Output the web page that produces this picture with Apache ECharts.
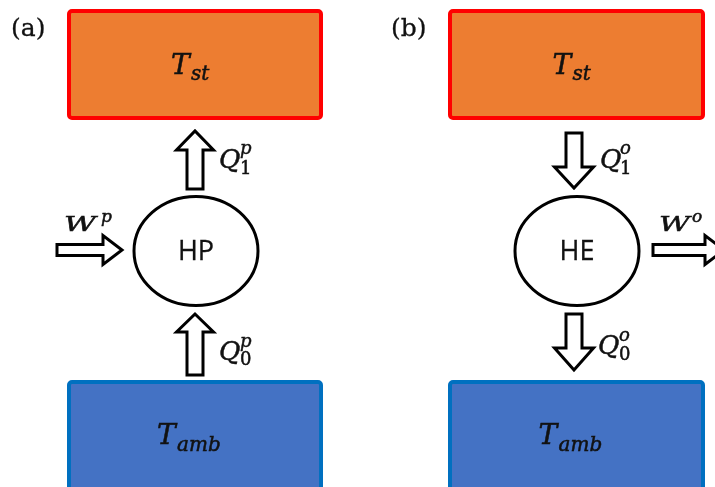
<!DOCTYPE html>
<html><head><meta charset="utf-8">
<script src="https://cdn.jsdelivr.net/npm/echarts@6/dist/echarts.min.js"></script>
<style>html,body{margin:0;padding:0;background:#fff}#c{width:715px;height:487px}</style>
</head><body><div id="c"></div>
<script>
// ---- content ----
const panelTags = ['(a)', '(b)'];
const engineNames = ['HP', 'HE'];
const hotLabel = {base: 'T', sub: 'st'};
const coldLabel = {base: 'T', sub: 'amb'};
const flowLabels = [
  {base: 'Q', sup: 'p', sub: '1'},
  {base: 'Q', sup: 'p', sub: '0'},
  {base: 'W', sup: 'p', sub: ''},
  {base: 'Q', sup: 'o', sub: '1'},
  {base: 'Q', sup: 'o', sub: '0'},
  {base: 'W', sup: 'o', sub: ''}
];
// ---- styles ----
const HOT_FILL = '#ED7D31', HOT_EDGE = '#FF0000';
const COLD_FILL = '#4472C4', COLD_EDGE = '#0070C0';
const MATH = '"DejaVu Serif", serif';

const els = [];
function txt(s, x, y, size, opts) {
  opts = opts || {};
  const bw = opts.bw === undefined ? 0.5 : opts.bw;
  els.push({type: 'text', x: x, y: y, scaleX: opts.sx || 1, z: 10,
    style: {text: s, fontSize: size, fontFamily: opts.family || MATH,
      fontStyle: opts.italic === false ? 'normal' : 'italic', fill: '#111',
      stroke: bw > 0 ? '#111' : null, lineWidth: bw,
      align: opts.align || 'left', verticalAlign: 'middle'}});
}
function vArrow(cx, yTail, yHB, yTip, sh, hh) {
  els.push({type: 'polygon', z: 5, shape: {points: [
    [cx - sh, yTail], [cx - sh, yHB], [cx - hh, yHB], [cx, yTip],
    [cx + hh, yHB], [cx + sh, yHB], [cx + sh, yTail]]},
    style: {fill: '#fff', stroke: '#000', lineWidth: 3, lineJoin: 'miter'}});
}
function hArrow(cy, xTail, xHB, xTip, sh, hh) {
  els.push({type: 'polygon', z: 5, shape: {points: [
    [xTail, cy - sh], [xHB, cy - sh], [xHB, cy - hh], [xTip, cy],
    [xHB, cy + hh], [xHB, cy + sh], [xTail, cy + sh]]},
    style: {fill: '#fff', stroke: '#000', lineWidth: 3, lineJoin: 'miter'}});
}
function box(x, y, w, h, fill, edge) {
  els.push({type: 'rect', z: 1, shape: {x: x, y: y, width: w, height: h, r: 3},
    style: {fill: fill, stroke: edge, lineWidth: 4}});
}
function ellipse(cx, cy, rx, ry) {
  els.push({type: 'ellipse', z: 5, shape: {cx: cx, cy: cy, rx: rx, ry: ry},
    style: {fill: '#fff', stroke: '#000', lineWidth: 3}});
}
function mathLabel(lab, x, y, supY, subY, subX, size, supSize) {
  txt(lab.base, x, y, size);
  if (lab.sup) txt(lab.sup, subX, supY, supSize);
  if (lab.sub) txt(lab.sub, subX, subY, supSize, {italic: false});
}

const panels = [
  {tag: panelTags[0], tagX: 11, boxX: 69, boxW: 252, cx: 196, arrowX: 195, name: engineNames[0], dir: 'up'},
  {tag: panelTags[1], tagX: 391, boxX: 450, boxW: 253, cx: 577, arrowX: 574, name: engineNames[1], dir: 'down'}
];

panels.forEach(function (p) {
  txt(p.tag, p.tagX, 29, 25, {italic: false, bw: 0.3});
  box(p.boxX, 11, p.boxW, 107, HOT_FILL, HOT_EDGE);
  box(p.boxX, 382, p.boxW, 130, COLD_FILL, COLD_EDGE);
  const bc = p.boxX + p.boxW / 2;
  txt(hotLabel.base, bc - 24, 67, 28);
  txt(hotLabel.sub, bc - 4, 75, 20);
  txt(coldLabel.base, bc - 38, 437, 28);
  txt(coldLabel.sub, bc - 18, 446, 20);
  ellipse(p.cx, 251, 62, 54.5);
  txt(p.name, p.cx, 252, 27, {italic: false, family: '"Open Sans", sans-serif', align: 'center', bw: 0.3});
  const ax = p.arrowX;
  if (p.dir === 'up') {
    vArrow(ax, 189, 150, 131, 8, 18.5);
    vArrow(ax, 375, 332, 314, 8, 18.5);
    hArrow(250, 57, 103, 122, 5.5, 14.5);
    mathLabel(flowLabels[0], 219, 161, 149, 169, 240, 26, 18);
    mathLabel(flowLabels[1], 219, 353, 342, 360, 240, 26, 18);
    txt(flowLabels[2].base, 64, 226, 20, {sx: 1.55});
    txt(flowLabels[2].sup, 101, 218, 17);
  } else {
    vArrow(ax, 133, 167, 188, 8, 19.5);
    vArrow(ax, 314, 348, 370, 8, 19.5);
    hArrow(250, 653, 705, 724, 5.5, 14.5);
    mathLabel(flowLabels[3], 600, 161, 149, 169, 620, 26, 18);
    mathLabel(flowLabels[4], 598, 347, 336, 355, 619, 26, 18);
    txt(flowLabels[5].base, 659, 226, 20, {sx: 1.5});
    txt(flowLabels[5].sup, 692, 218, 17);
  }
});

const chart = echarts.init(document.getElementById('c'), null, {renderer: 'canvas'});
chart.setOption({backgroundColor: '#fff', animation: false, graphic: {elements: els}});
</script></body></html>
